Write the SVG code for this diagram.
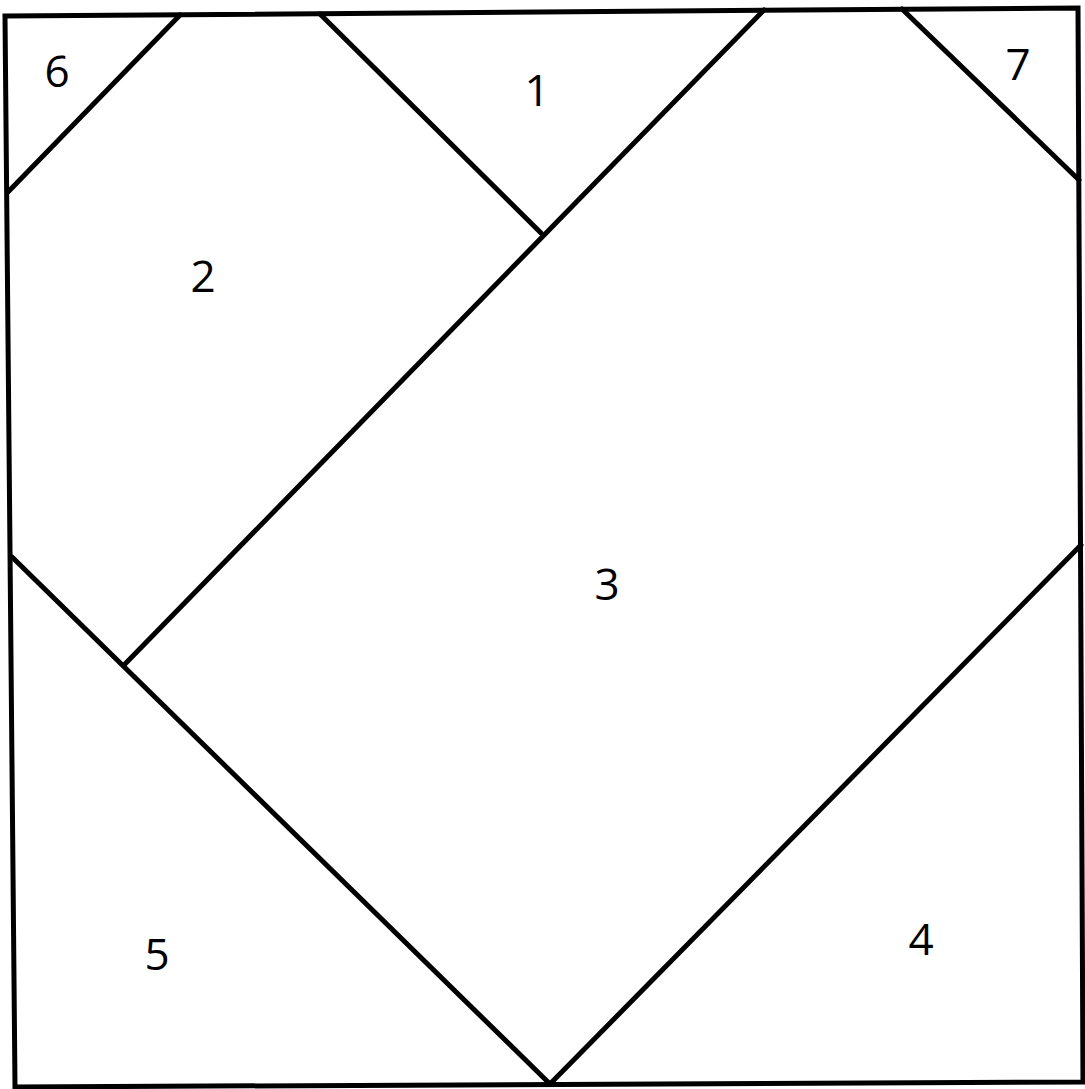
<svg xmlns="http://www.w3.org/2000/svg" width="1085" height="1089" viewBox="0 0 1085 1089">
<style>
.ln{stroke:#000;stroke-width:5;fill:none;stroke-linecap:round;stroke-linejoin:miter}
.lb{font-family:"Open Sans","Noto Sans","Liberation Sans",sans-serif;font-size:44px;fill:#000;text-anchor:middle}
</style>
<rect width="1085" height="1089" fill="#fff"/>
<g id="block">
<polygon class="ln" points="5,16 1078,8 1083,1082 15,1087"/>
<line class="ln" x1="180" y1="15" x2="8" y2="192"/>
<line class="ln" x1="320" y1="14" x2="541" y2="233"/>
<line class="ln" x1="764" y1="10" x2="125" y2="664"/>
<line class="ln" x1="902" y1="9" x2="1079" y2="180"/>
<line class="ln" x1="12" y1="557" x2="550" y2="1084"/>
<line class="ln" x1="550" y1="1084" x2="1081" y2="545"/>
</g>
<g id="labels">
<text class="lb" x="57" y="87">6</text>
<text class="lb" x="537" y="106">1</text>
<text class="lb" x="1018" y="80">7</text>
<text class="lb" x="203" y="292">2</text>
<text class="lb" x="607" y="600">3</text>
<text class="lb" x="157" y="970">5</text>
<text class="lb" x="921" y="955">4</text>
</g>
</svg>
